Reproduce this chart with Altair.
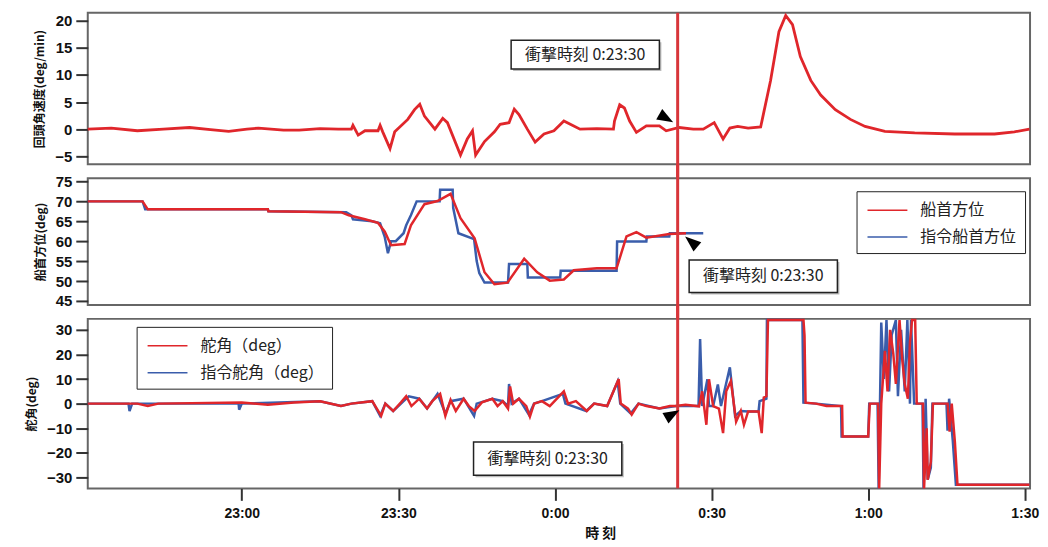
import altair as alt
import pandas as pd

# ---------- data (time = minutes relative to 0:00) ----------
rot_t = [-89.5, -85, -80, -75, -70, -66, -62.5, -59, -56.8, -52, -49, -45, -41.5, -39, -38.7, -37.7,
         -36.4, -33.9, -33.5, -33, -31.6, -30.7, -28.2, -26.9, -25.9, -25, -23, -21.5, -20.6, -18.1,
         -16.8, -15.8, -15.2, -13.5, -11.6, -10.5, -8.8, -7.8, -6.9, -5.3, -3.8, -2.1, -0.2, 1.7, 3.6,
         4.8, 8, 11.2, 11.4, 12.4, 13.3, 14.3, 15.6, 17.5, 20, 21.3, 23.8, 26.5, 28.4, 30.5, 32.2, 33.5,
         35, 37, 39.4, 41.3, 42.9, 44.2, 45.5, 47, 49, 50.9, 53.7, 56.6, 59.4, 63.2, 68.9, 76.6, 84.2,
         88, 90.9]
rot_v = [0, 0.2, -0.3, 0, 0.3, -0.1, -0.4, 0, 0.2, -0.2, -0.2, 0.1, 0, 0, 0.7, -1.1,
         -0.3, -0.3, 0.7, -0.5, -3.6, -0.5, 1.8, 3.6, 4.6, 2.4, 0, 2, 1.2, -4.8,
         -1.8, -0.3, -4.8, -2.3, -0.5, 0.9, 1.2, 3.7, 2.7, 0, -2.4, -0.9, -0.3, 1.5, 0.6,
         0, 0.1, 0, 1.5, 4.5, 3.9, 1.5, -0.6, 0.6, 0.6, -0.3, 0.3, 0, 0, 1.2, -1.8, 0.2,
         0.5, 0.2, 0.4, 9, 18, 21, 19.3, 13.4, 9, 6.3, 3.6, 1.8, 0.5, -0.4, -0.7, -0.9, -0.9,
         -0.5, 0]

hdg_t = [-89.5, -79, -78, -55, -54.9, -41, -39.5, -36.4, -33.9, -32.6, -31.4, -28.8, -27.6, -25,
         -22.5, -20, -18.1, -15.4, -13.5, -11.6, -9.1, -5.9, -3.4, -1, 1.7, 3.6, 8, 11.8, 13.7,
         15.6, 17.5, 21.9, 25.1]
hdg_v = [70, 70, 68, 68, 67.5, 67.3, 66.5, 65.5, 64.6, 62.4, 59, 59.3, 64, 69.3,
         70.1, 71.9, 65.8, 60.7, 52.2, 49.2, 49.6, 55.6, 52.2, 50.1, 50.4, 52.7, 53.2, 53.2, 61.2,
         62.3, 60.9, 61.8, 62]
cmd_hdg_t = [-89.5, -79, -78.5, -55, -54.9, -40, -39, -38.7, -35, -33.5, -32.6, -32.0, -31.4, -30.5,
             -29, -28.5, -27.6, -26.5, -22.1, -22, -19.6, -19.5, -18.5, -15.5, -15, -14.5, -13.5,
             -9, -8.8, -5.3, -5.2, 1, 1.1, 11.8, 11.9, 17.5, 17.6, 21.9, 22, 28.4]
cmd_hdg_v = [70, 70, 68, 68, 67.5, 67.3, 66.5, 65.5, 65, 64.5, 61, 57, 60, 60,
             62, 64, 66.5, 70, 70, 72.9, 72.9, 68.4, 62, 60.5, 55, 52, 49.6,
             49.6, 54.3, 54.3, 50.9, 50.9, 52.6, 52.6, 59.9, 59.9, 61.2, 61.2, 62, 62]

rud_t = [-89.5, -80, -78, -76, -60, -55, -50, -45, -41, -39, -35, -33.3, -32.5, -31, -29.5, -28.5,
         -27.5, -26, -24.5, -23.5, -22, -21, -20, -19, -17.5, -16.5, -15.4, -14, -12, -11, -10, -9,
         -8.6, -8, -6.9, -5.5, -4.8, -4, -2.5, -1, 1.7, 2.5, 4, 6.1, 7.5, 10, 12.2, 12.6, 14, 14.7,
         16, 17.5, 20, 22, 23.2, 25, 27.6, 28.2, 29, 29.5, 30.3, 31.4, 32.2, 32.8, 33.7, 34.7, 35.6,
         36.2, 37, 39, 39.6, 40, 40.5, 40.8, 47.6, 47.8, 48, 50, 52, 55, 55.1, 60, 60.3, 61.9, 62.1,
         62.5, 63.2, 63.7, 64.2, 64.8, 65.3, 66, 66.5, 67, 67.6, 68, 68.4, 69, 69.3, 70.5, 70.7,
         71.2, 71.4, 72, 72.4, 75.2, 75.6, 76, 76.6, 77.1, 90.9]
rud_v = [0, 0, -1, 0, 0.5, -0.5, 0.5, 1, -1, 0, 1, -5, 0, -3, 0.5, 3,
         -1, 2, -2, 1, 4, -5, 1.5, -3, 2, -1, -3, 0.5, 2, -1, 1, -2,
         7, 0, 2, -1, -5.3, 0, 1, -1, 5, 0, 1, -3, 0, -1, 10, 0, -2, -4.5,
         0, -1, -2, -1, -1, -0.5, -1.1, 5, -8.6, 9.9, -1, -2, -12, 5, 9.2, -7.3, -3,
         -8.6, -3.2, -3.2, -12, 2.5, 3, 34, 34, 27.7, 0.4, 0, -1, -1, -13.4, -13.4, 0, 0, -34.5,
         0, 21.5, 5, 30, 20.5, 8, 34, 18.5, 8, 2, 25, 34, 34, 0, 0, -34.5,
         -10, -31, -23.7, 0, 0, -11.4, 0, -15.5, -33, -33]
cmd_rud_t = [-89.5, -81.7, -81.5, -81, -60.6, -60.5, -60, -45, -41, -39, -35, -33.5, -32.5, -31, -29,
             -28, -26, -24.5, -22.5, -21, -20, -17.5, -15.5, -15, -12, -10, -9, -8.8, -8.3, -6.9,
             -5, -4, -2.5, 1.5, 2, 6, 7.5, 10, 12, 12.5, 14.5, 16, 20, 23.2, 27.5, 27.8, 28.2, 29.2,
             29.5, 30.3, 31.2, 31.8, 33.5, 34, 34.5, 35.6, 37, 39, 39.2, 40.5, 40.6, 47.4, 47.6, 50,
             54.8, 54.9, 60, 60.2, 61.8, 62, 62.5, 63, 63.5, 64, 64.5, 65.3, 65.7, 66.3, 67, 67.5,
             68, 68.2, 68.8, 70.4, 70.6, 71, 71.4, 72, 72.3, 75, 75.2, 75.5, 76.2, 76.8, 90.9]
cmd_rud_v = [0, 0, -3, 0, 0, -2.5, 0, 1, -1, 0, 1, -5, 0, -3, 1,
             3, 2, -2, 4, -4, 1, 2, -5, 0, 2, 1, -1, 8, 0, 2,
             -4.5, 0, 1, 4, 0, -3, 0, -1, 9, 0, -4, 0, -2, -1, -1, 26.3, -1, 9.9,
             -1, -1, 7.8, -1, 14.8, 5, -5, -3, -3.2, -3.2, 1, 2, 34, 34, 0.4, 0,
             -1, -13.4, -13.4, 0, 0, -34.5, 33, 10, 34, 5, 28, 34, 3, 30, 5, 34,
             0, 34, 0, 0, -34.5, 2, -31, -26, 0, 0, -11, 2, -15, -33, -33]

series_hdg = ["船首方位", "指令船首方位"]
series_rud = ["舵角（deg）", "指令舵角（deg）"]
series_colors = ["#e0262b", "#3a5dab"]

tick_values = [-60, -30, 0, 30, 60, 90]
tick_labels = ["23:00", "23:30", "0:00", "0:30", "1:00", "1:30"]

impact_t = 23.5
note_text = "衝撃時刻 0:23:30"
# annotation boxes: [t1, t2, v1, v2] per panel
box_rot = [-8.4, 20.0, 16.4, 11.1]
box_hdg = [25.7, 54.1, 55.3, 47.1]
box_rud = [-15.6, 12.8, -15.6, -29.2]
# arrow heads: t, v, angle
arr_rot = [21.3, 2.0, 120]
arr_hdg = [26.1, 59.9, 310]
arr_rud = [22.5, -4.3, 60]

# ---------- build ----------
JP = "Noto Sans CJK JP"
W = 945
XDOM = [-89.5, 91]

label_expr = "''"
for v, l in zip(tick_values, tick_labels):
    label_expr = f"datum.value == {v} ? '{l}' : ({label_expr})"

X_AXIS = alt.Axis(values=tick_values, labelExpr=label_expr, title="時 刻", titleX=514)


def yaxis(title, values):
    return alt.Axis(title=title, values=values)


def df_series(t, v, name):
    return pd.DataFrame({"t": t, "v": v, "s": name, "i": range(len(t))})


def extras(box, arr, h, xaxis, yax, ydom, top_ext, bot_ext):
    bdf = pd.DataFrame({"t1": [box[0]], "t2": [box[1]], "v1": [box[2]], "v2": [box[3]],
                        "tm": [(box[0] + box[1]) / 2], "vm": [(box[2] + box[3]) / 2],
                        "txt": [note_text]})
    adf = pd.DataFrame({"t": [arr[0]], "v": [arr[1]]})
    rdf = pd.DataFrame({"t": [impact_t]})
    ysc = alt.Scale(domain=ydom, nice=False, zero=False)
    xsc = alt.Scale(domain=XDOM, nice=False, zero=False)
    X = lambda f: alt.X(f, scale=xsc, axis=xaxis)
    Y = lambda f: alt.Y(f, scale=ysc, axis=yax)
    shadow = alt.Chart(bdf).mark_rect(color="#bbbbbb", xOffset=2, yOffset=2, x2Offset=2, y2Offset=2).encode(
        x=X("t1:Q"), x2="t2:Q", y=Y("v1:Q"), y2="v2:Q")
    rect = alt.Chart(bdf).mark_rect(fill="white", stroke="#222", strokeWidth=1.5).encode(
        x=X("t1:Q"), x2="t2:Q", y=Y("v1:Q"), y2="v2:Q")
    txt = alt.Chart(bdf).mark_text(font=JP, fontSize=16, color="#222").encode(
        x=X("tm:Q"), y=Y("vm:Q"), text="txt:N")
    arrow = alt.Chart(adf).mark_point(shape="M0,-1L0.75,1L-0.75,1Z", filled=True, color="black",
                                      size=260, opacity=1, angle=arr[2]).encode(x=X("t:Q"), y=Y("v:Q"))
    rule = alt.Chart(rdf).mark_rule(color="#d8353a", strokeWidth=3).encode(
        x=X("t:Q"), y=alt.value(-top_ext), y2=alt.value(h + bot_ext))
    return [rule, shadow, rect, txt, arrow]


def legend(x, y):
    return alt.Legend(title=None, orient="none", legendX=x, legendY=y,
                      strokeColor="#222", fillColor="white", padding=8,
                      symbolType="M-2,0H2", symbolSize=400, symbolStrokeWidth=1.5,
                      symbolFillColor="transparent", symbolOffset=12,
                      labelFont=JP, labelFontSize=16, labelColor="#222",
                      rowPadding=8, labelOffset=22, offset=0)


H1, H2, H3 = 152, 127, 170

# Panel 1: rate of turn
dom1 = [-6.5, 21.5]
ax1 = yaxis("回頭角速度(deg/min)", [-5, 0, 5, 10, 15, 20])
d1 = df_series(rot_t, rot_v, "rot")
p1_line = alt.Chart(d1).mark_line(color="#e0262b", strokeWidth=2.8).encode(
    x=alt.X("t:Q", scale=alt.Scale(domain=XDOM, nice=False, zero=False), axis=None),
    y=alt.Y("v:Q", scale=alt.Scale(domain=dom1, nice=False, zero=False), axis=ax1),
    order="i:Q")
p1 = alt.layer(p1_line, *extras(box_rot, arr_rot, H1, None, ax1, dom1, 0, 14)).properties(
    width=W, height=H1)

# Panel 2: heading
dom2 = [44, 75.8]
ax2 = yaxis("船首方位(deg)", [45, 50, 55, 60, 65, 70, 75])
d2 = pd.concat([df_series(cmd_hdg_t, cmd_hdg_v, series_hdg[1]),
                df_series(hdg_t, hdg_v, series_hdg[0])])
col2 = alt.Color("s:N", scale=alt.Scale(domain=series_hdg, range=series_colors),
                 legend=legend(771, 13))
p2_line = alt.Chart(d2).mark_line(strokeWidth=2.5).encode(
    x=alt.X("t:Q", scale=alt.Scale(domain=XDOM, nice=False, zero=False), axis=None),
    y=alt.Y("v:Q", scale=alt.Scale(domain=dom2, nice=False, zero=False), axis=ax2),
    color=col2, order="i:Q")
p2 = alt.layer(p2_line, *extras(box_hdg, arr_hdg, H2, None, ax2, dom2, 14, 14)).properties(
    width=W, height=H2)

# Panel 3: rudder
dom3 = [-34.5, 34.5]
ax3 = yaxis("舵角(deg)", [-30, -20, -10, 0, 10, 20, 30])
d3 = pd.concat([df_series(cmd_rud_t, cmd_rud_v, series_rud[1]),
                df_series(rud_t, rud_v, series_rud[0])])
col3 = alt.Color("s:N", scale=alt.Scale(domain=series_rud, range=series_colors),
                 legend=legend(49, 8))
p3_line = alt.Chart(d3).mark_line(strokeWidth=2.5).encode(
    x=alt.X("t:Q", scale=alt.Scale(domain=XDOM, nice=False, zero=False), axis=X_AXIS),
    y=alt.Y("v:Q", scale=alt.Scale(domain=dom3, nice=False, zero=False), axis=ax3),
    color=col3, order="i:Q")
p3 = alt.layer(p3_line, *extras(box_rud, arr_rud, H3, X_AXIS, ax3, dom3, 14, 0)).properties(
    width=W, height=H3)

chart = alt.vconcat(
    p1, p2, p3, spacing=14, bounds="flush",
    padding={"left": 16, "top": 0, "right": 0, "bottom": 0}, background="white",
).resolve_scale(color="independent").configure_view(
    stroke="#666", strokeWidth=2).configure_axis(
    grid=False, tickSize=12, tickWidth=2, tickColor="#333", domain=False,
    labelFont="Liberation Sans", labelFontWeight="bold", labelFontSize=15, labelPadding=4,
    labelOverlap=False, labelColor="#111", titleFont=JP, titleFontSize=12, titleFontWeight="bold",
    titlePadding=8, titleColor="#111").configure_axisX(titleFontSize=14, titlePadding=6,
                                                         labelPadding=6, labelFontSize=14)

chart.save("out.html", embed_options={"renderer": "svg", "actions": False})
